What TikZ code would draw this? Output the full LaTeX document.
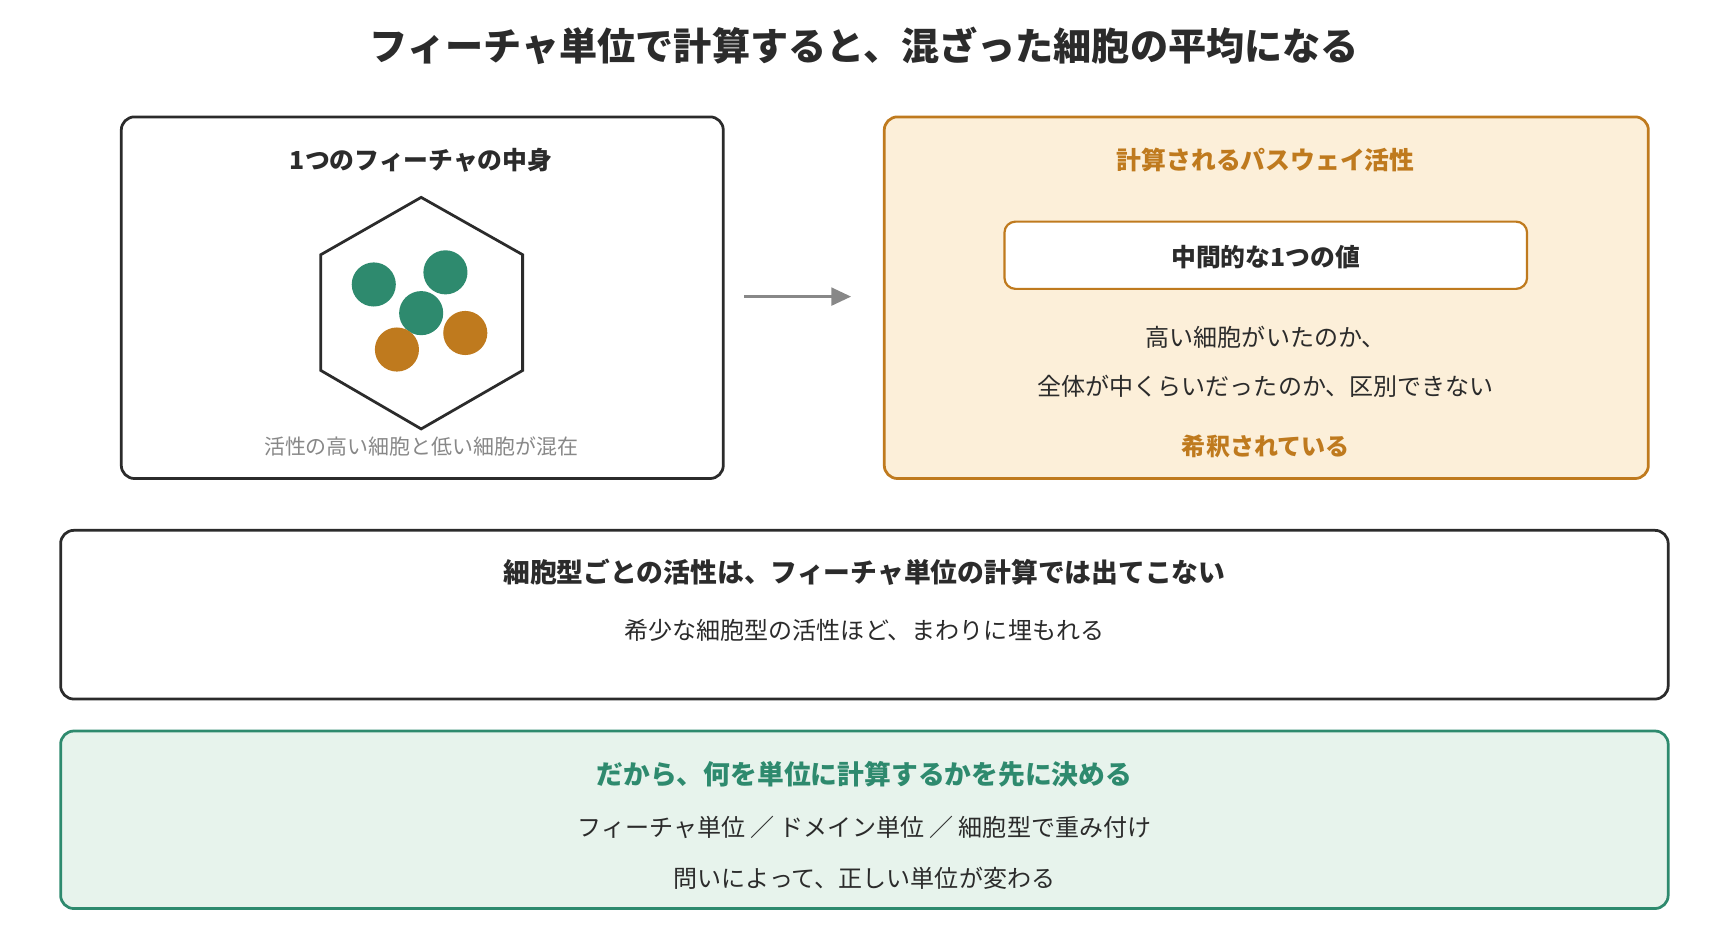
\documentclass[tikz,border=0pt]{standalone}
\usepackage{fontspec}
\usetikzlibrary{arrows.meta}
\setmainfont{Noto Sans CJK JP}
\begin{document}
\begin{tikzpicture}[x=1pt,y=-1pt,
  box/.style={draw, line width=2.5pt, rounded corners=12pt},
  t/.style={font=\fontsize{21.8}{26}\selectfont, text=dark},
  tb/.style={font=\fontsize{24.3}{28}\selectfont\bfseries, text=dark},
  cell/.style={circle, minimum size=40pt, inner sep=0pt}]
\definecolor{dark}{HTML}{2B2B2B}
\definecolor{orng}{HTML}{BF7A1E}
\definecolor{grn}{HTML}{2E8A6E}
\definecolor{cream}{HTML}{FCEFD9}
\definecolor{mint}{HTML}{E7F3EC}
\definecolor{gry}{HTML}{888888}
\useasboundingbox (0,0) rectangle (1560,852.5);
\node[font=\fontsize{34.6}{40}\selectfont\bfseries, text=dark] (title) at (784,42) {フィーチャ単位で計算すると、混ざった細胞の平均になる};
% left box
\draw[box, draw=dark, fill=white] (110,106) rectangle (656,434);
\node[tb, font=\fontsize{22.5}{26}\selectfont\bfseries] (lt) at (382,145) {1つのフィーチャの中身};
\draw[dark, line width=2.5pt] (382,179) -- (474,231) -- (474,336) -- (382,389) -- (291,336) -- (291,231) -- cycle;
\node[cell, fill=grn] (c1) at (339,258) {};
\node[cell, fill=grn] (c2) at (404,247) {};
\node[cell, fill=grn] (c3) at (382,284) {};
\node[cell, fill=orng] (c4) at (360,317) {};
\node[cell, fill=orng] (c5) at (422,302) {};
\node[font=\fontsize{19}{23}\selectfont, text=gry] (cap) at (382,405) {活性の高い細胞と低い細胞が混在};
% arrow
\coordinate (a1) at (675,269);
\coordinate (a2) at (772,269);
\draw[gry, line width=3pt, -{Triangle[length=18pt,width=16pt]}] (a1) -- (a2);
% right box
\draw[box, draw=orng, fill=cream] (802,106) rectangle (1495,434);
\node[tb, font=\fontsize{22.5}{26}\selectfont\bfseries, text=orng] (rt) at (1148,145) {計算されるパスウェイ活性};
\draw[draw=orng, line width=2pt, rounded corners=10pt, fill=white] (911,201) rectangle (1385,262);
\node[tb, font=\fontsize{22.5}{26}\selectfont\bfseries] (mid) at (1148,233) {中間的な1つの値};
\node[t] (r1) at (1148,306) {高い細胞がいたのか、};
\node[t] (r2) at (1148,350) {全体が中くらいだったのか、区別できない};
\node[t, font=\fontsize{21.8}{26}\selectfont\bfseries, text=orng] (r3) at (1148,405) {希釈されている};
% box 3
\draw[box, draw=dark, fill=white] (55,481) rectangle (1513,634);
\node[tb] (b3t) at (784,519) {細胞型ごとの活性は、フィーチャ単位の計算では出てこない};
\node[t] (b3s) at (784,572) {希少な細胞型の活性ほど、まわりに埋もれる};
% box 4
\draw[box, draw=grn, fill=mint] (55,663) rectangle (1513,824);
\node[tb, text=grn] (b4t) at (784,702) {だから、何を単位に計算するかを先に決める};
\node[t] (b4a) at (784,750) {フィーチャ単位 ／ ドメイン単位 ／ 細胞型で重み付け};
\node[t] (b4b) at (784,797) {問いによって、正しい単位が変わる};
\end{tikzpicture}
\end{document}
